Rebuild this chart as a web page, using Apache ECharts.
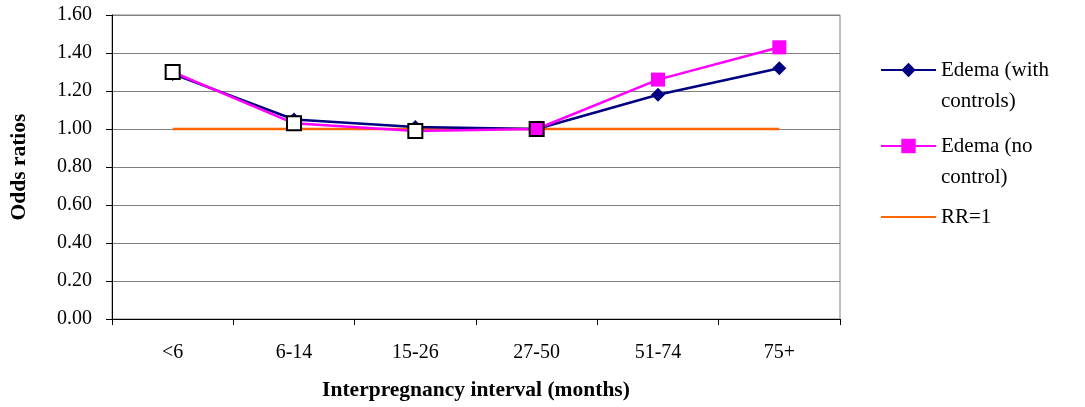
<!DOCTYPE html>
<html>
<head>
<meta charset="utf-8">
<script src="https://cdn.jsdelivr.net/npm/echarts@6/dist/echarts.min.js"></script>
<style>
  html, body { margin: 0; padding: 0; background: #fff; }
  #chart { width: 1085px; height: 407px; }
</style>
</head>
<body>
<div id="chart"></div>
<script>
// Interpregnancy interval categories (months)
const categories = ['<6', '6-14', '15-26', '27-50', '51-74', '75+'];

// Odds ratios by interval
const edemaWithControls = [1.29, 1.05, 1.01, 1.00, 1.18, 1.32];
const edemaNoControl    = [1.30, 1.03, 0.99, 1.00, 1.26, 1.43];
const reference         = [1.00, 1.00, 1.00, 1.00, 1.00, 1.00];

const seriesNames = ['Edema (with\ncontrols)', 'Edema (no\ncontrol)', 'RR=1'];

const serif = '"Liberation Serif", "Times New Roman", serif';
const LEGEND_LINE = 31.5;

// The first points of the no-control series use white-filled, black-outlined markers
const noControlData = edemaNoControl.map((v, i) => {
  if (i < 3) return { value: v, itemStyle: { color: '#ffffff', borderColor: '#000000', borderWidth: 2 } };
  if (i === 3) return { value: v, itemStyle: { color: '#ff00ff', borderColor: '#000000', borderWidth: 2 } };
  return v;
});

// One legend block per entry; a blank leading line keeps the key beside the first text line
function legendBlock(name, top, twoLines, extra) {
  return Object.assign({
    orient: 'vertical',
    left: 880,
    top: top,
    padding: 0,
    itemWidth: 55,
    itemHeight: 18,
    formatter: n => (twoLines ? '\n' + n : n),
    textStyle: { fontFamily: serif, fontSize: 21, color: '#000', lineHeight: LEGEND_LINE },
    data: [{ name: name }]
  }, extra || {});
}

const chart = echarts.init(document.getElementById('chart'), null, { renderer: 'canvas' });

chart.setOption({
  animation: false,
  backgroundColor: '#ffffff',
  grid: { left: 110, right: 245, top: 15, bottom: 88, show: true, borderColor: '#808080', borderWidth: 1 },
  legend: [
    legendBlock(seriesNames[0], 70 - 1.5 * LEGEND_LINE, true),
    legendBlock(seriesNames[1], 146 - 1.5 * LEGEND_LINE, true),
    legendBlock(seriesNames[2], 217 - 0.5 * LEGEND_LINE, false,
      { data: [{ name: seriesNames[2], itemStyle: { opacity: 0 } }] })
  ],
  xAxis: {
    type: 'category',
    data: categories,
    boundaryGap: true,
    name: 'Interpregnancy interval (months)',
    nameLocation: 'middle',
    nameGap: 60,
    nameTextStyle: { fontFamily: serif, fontSize: 21.5, fontWeight: 'bold', color: '#000' },
    axisLine: { lineStyle: { color: '#000', width: 1 } },
    axisTick: { show: true, length: 6, lineStyle: { color: '#000' } },
    axisLabel: { fontFamily: serif, fontSize: 20, color: '#000', margin: 24 },
    splitLine: { show: false }
  },
  yAxis: {
    type: 'value',
    min: 0,
    max: 1.6,
    interval: 0.2,
    name: 'Odds ratios',
    nameLocation: 'middle',
    nameGap: 82,
    nameTextStyle: { fontFamily: serif, fontSize: 21.5, fontWeight: 'bold', color: '#000' },
    axisLine: { show: true, lineStyle: { color: '#000', width: 1 } },
    axisTick: { show: true, length: 6, lineStyle: { color: '#000' } },
    axisLabel: { fontFamily: serif, fontSize: 20, color: '#000', margin: 20, formatter: v => v.toFixed(2) },
    splitLine: { show: true, lineStyle: { color: '#808080', width: 1 } }
  },
  series: [
    {
      name: seriesNames[2],
      type: 'line',
      data: reference,
      symbol: 'none',
      z: 1,
      lineStyle: { color: '#ff6600', width: 2.5 },
      itemStyle: { color: '#ff6600' }
    },
    {
      name: seriesNames[0],
      type: 'line',
      data: edemaWithControls,
      symbol: 'diamond',
      symbolSize: 14,
      z: 2,
      lineStyle: { color: '#000080', width: 2.5 },
      itemStyle: { color: '#000080' }
    },
    {
      name: seriesNames[1],
      type: 'line',
      data: noControlData,
      symbol: 'rect',
      symbolSize: 14,
      z: 3,
      lineStyle: { color: '#ff00ff', width: 2.5 },
      itemStyle: { color: '#ff00ff' }
    }
  ]
});
</script>
</body>
</html>
